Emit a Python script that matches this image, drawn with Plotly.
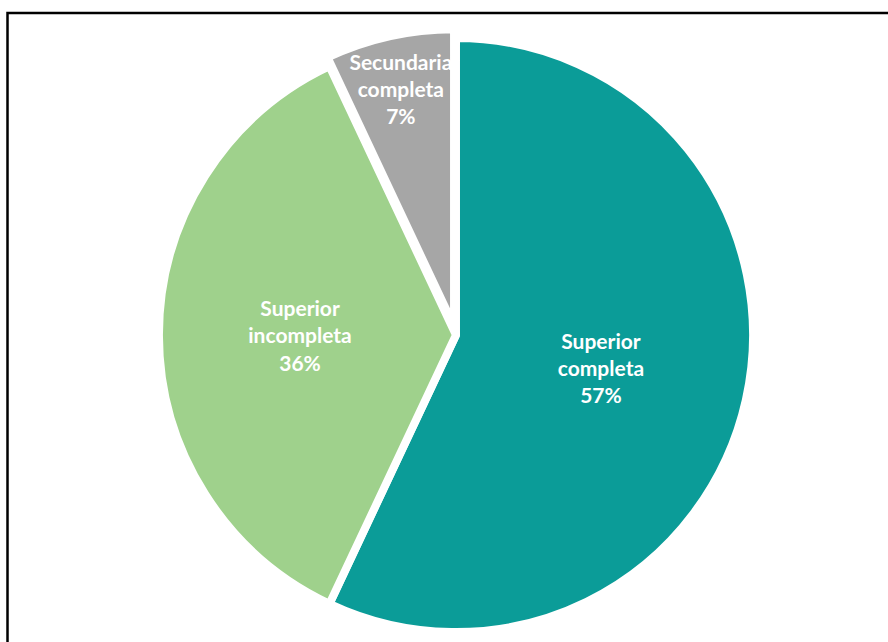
import plotly.graph_objects as go

# Education level shares
labels = ["Superior<br>completa", "Superior<br>incompleta", "Secundaria<br>completa"]
values = [57, 36, 7]
colors = ["#0B9C98", "#9FD18C", "#A6A6A6"]
pulls = [0, 0, 0.03]

fig = go.Figure(
    go.Pie(
        labels=labels,
        values=values,
        sort=False,
        direction="clockwise",
        rotation=0,
        pull=pulls,
        marker=dict(colors=colors, line=dict(color="#FFFFFF", width=8)),
        texttemplate="%{label}<br>%{percent:.0%}",
        textposition="inside",
        insidetextorientation="horizontal",
        textfont=dict(family="Lato", size=21, color="#FFFFFF", weight="bold"),
        hoverinfo="label+percent",
        showlegend=False,
        domain=dict(x=[0.1689, 0.8581], y=[0.0016, 0.9548]),
    )
)

# Outer frame around the chart area
fig.add_shape(
    type="rect", xref="paper", yref="paper",
    x0=7.5 / 888, x1=1.05, y0=-0.05, y1=1 - 13 / 642,
    line=dict(color="#000000", width=2.5), fillcolor="rgba(0,0,0,0)",
)

fig.update_layout(
    width=888, height=642,
    margin=dict(l=0, r=0, t=0, b=0),
    paper_bgcolor="#FFFFFF",
    plot_bgcolor="#FFFFFF",
    uniformtext=dict(minsize=21, mode="show"),
)

fig.write_html("out.html")
